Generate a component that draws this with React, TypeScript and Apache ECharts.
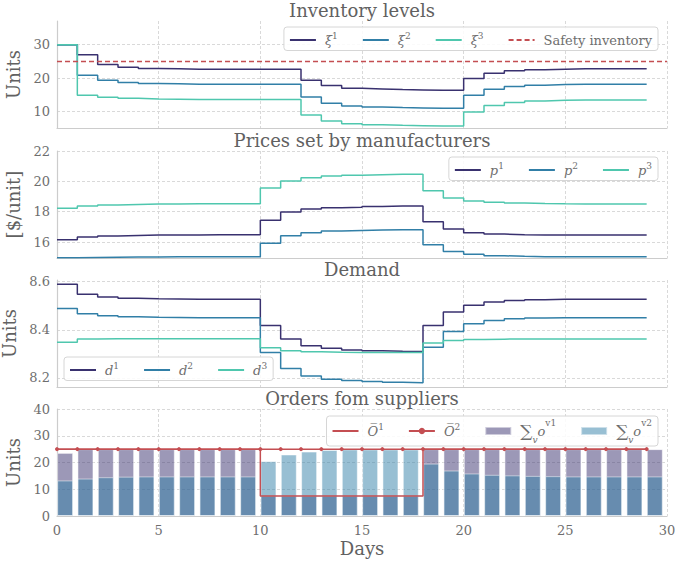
import React, { useEffect, useRef } from 'react';
import * as echarts from 'echarts';

// ---------- data ----------
const days = [0, 1, 2, 3, 4, 5, 6, 7, 8, 9, 10, 11, 12, 13, 14, 15, 16, 17, 18, 19, 20, 21, 22, 23, 24, 25, 26, 27, 28, 29];

const inv1 = [30, 27.0, 24.1, 23.3, 22.9, 22.8, 22.7, 22.7, 22.7, 22.7, 22.7, 22.7, 19.4, 17.8, 17.0, 16.8, 16.6, 16.5, 16.4, 16.4, 19.9, 21.5, 22.2, 22.5, 22.7, 22.8, 22.8, 22.8, 22.8, 22.8];
const inv2 = [30, 20.9, 19.4, 18.7, 18.4, 18.3, 18.2, 18.2, 18.2, 18.2, 18.2, 18.2, 14.4, 12.5, 11.7, 11.4, 11.2, 11.1, 11.0, 11.0, 14.9, 16.7, 17.5, 17.9, 18.1, 18.2, 18.2, 18.2, 18.2, 18.2];
const inv3 = [30, 14.9, 14.3, 14.0, 13.8, 13.7, 13.6, 13.6, 13.6, 13.6, 13.6, 13.6, 9.0, 7.2, 6.4, 6.1, 5.9, 5.8, 5.7, 5.7, 9.9, 11.8, 12.7, 13.2, 13.4, 13.5, 13.5, 13.5, 13.5, 13.5];
const safetyInventory = 25;
const safetySpan = [0, 30];

const price1 = [16.15, 16.33, 16.4, 16.44, 16.46, 16.47, 16.47, 16.48, 16.48, 16.48, 17.43, 17.98, 18.18, 18.26, 18.3, 18.35, 18.37, 18.37, 17.34, 16.86, 16.62, 16.53, 16.49, 16.47, 16.46, 16.46, 16.46, 16.46, 16.46, 16.46];
const price2 = [14.97, 14.99, 15.0, 15.01, 15.02, 15.03, 15.03, 15.03, 15.03, 15.03, 15.93, 16.42, 16.62, 16.73, 16.77, 16.79, 16.81, 16.81, 15.82, 15.38, 15.19, 15.1, 15.06, 15.04, 15.03, 15.03, 15.03, 15.03, 15.03, 15.03];
const price3 = [18.22, 18.37, 18.44, 18.48, 18.5, 18.51, 18.52, 18.52, 18.52, 18.52, 19.56, 20.02, 20.24, 20.35, 20.4, 20.44, 20.46, 20.47, 19.38, 18.9, 18.7, 18.62, 18.57, 18.54, 18.52, 18.51, 18.5, 18.5, 18.5, 18.5];

const demand1 = [8.589, 8.548, 8.536, 8.531, 8.529, 8.528, 8.527, 8.527, 8.527, 8.527, 8.418, 8.362, 8.334, 8.323, 8.316, 8.313, 8.311, 8.31, 8.418, 8.474, 8.502, 8.516, 8.522, 8.525, 8.527, 8.527, 8.527, 8.527, 8.527, 8.527];
const demand2 = [8.488, 8.467, 8.458, 8.454, 8.452, 8.451, 8.45, 8.45, 8.45, 8.45, 8.306, 8.239, 8.208, 8.194, 8.189, 8.185, 8.182, 8.18, 8.327, 8.393, 8.425, 8.439, 8.446, 8.449, 8.45, 8.45, 8.45, 8.45, 8.45, 8.45];
const demand3 = [8.348, 8.362, 8.363, 8.363, 8.363, 8.363, 8.363, 8.363, 8.363, 8.363, 8.325, 8.313, 8.309, 8.307, 8.306, 8.306, 8.306, 8.305, 8.345, 8.355, 8.36, 8.361, 8.362, 8.362, 8.362, 8.362, 8.362, 8.362, 8.362, 8.362];

const capacity1 = [25, 25, 25, 25, 25, 25, 25, 25, 25, 25, 7.5, 7.5, 7.5, 7.5, 7.5, 7.5, 7.5, 7.5, 25, 25, 25, 25, 25, 25, 25, 25, 25, 25, 25, 25];
const capacity2 = [25, 25, 25, 25, 25, 25, 25, 25, 25, 25, 25, 25, 25, 25, 25, 25, 25, 25, 25, 25, 25, 25, 25, 25, 25, 25, 25, 25, 25, 25];
const orders1 = [23.6, 25, 25, 25, 25, 25, 25, 25, 25, 25, 7.5, 7.5, 7.5, 7.5, 7.5, 7.5, 7.5, 7.5, 25, 25, 25, 25, 25, 25, 25, 25, 25, 25, 25, 25];
const orders2 = [13.3, 14.0, 14.5, 14.7, 14.8, 14.8, 14.8, 14.8, 14.8, 14.8, 20.5, 23.0, 24.1, 24.7, 24.9, 24.9, 24.9, 24.9, 19.6, 17.0, 15.9, 15.4, 15.2, 15.0, 14.9, 14.8, 14.8, 14.8, 14.8, 14.8];

const titles = ['Inventory levels', 'Prices set by manufacturers', 'Demand', 'Orders fom suppliers'];
const yNames = ['Units', '[$/unit]', 'Units', 'Units'];
const yTicks = [
  [10, 20, 30],
  [16, 18, 20, 22],
  [8.2, 8.4, 8.6],
  [0, 10, 20, 30, 40],
];
const yRanges = [
  [5.1, 37.1],
  [14.95, 22],
  [8.162, 8.607],
  [0, 40],
];
const xTickStep = 5;
const xRange = [0, 30];

// ---------- styling ----------
const FONT = 'DejaVu Serif';
const C1 = '#39316f';
const C2 = '#317fa7';
const C3 = '#4fc7ae';
const RED = '#c44e52';
const TXT = '#6e6e6e';
const HEAD = '#616161';
const GRID_TOPS = [21, 151, 280, 409];
const GRID_H = 107;
const TITLE_TOPS = [1, 131, 260, 389];

const xy = (vals: number[]) => vals.map((v, i) => [days[i], v]);

const rich: any = {
  t: { fontFamily: FONT, fontSize: 13, color: TXT, lineHeight: 18, verticalAlign: 'middle' },
  m: { fontFamily: FONT, fontStyle: 'italic', fontSize: 13, color: TXT, lineHeight: 18, verticalAlign: 'middle' },
  s: { fontFamily: FONT, fontSize: 9, color: TXT, lineHeight: 12, verticalAlign: 'top' },
  sum: { fontFamily: FONT, fontSize: 17, color: TXT, lineHeight: 26, verticalAlign: 'middle' },
  sub: { fontFamily: FONT, fontStyle: 'italic', fontSize: 9, color: TXT, lineHeight: 12, verticalAlign: 'bottom' },
};

const legendLabels: Record<string, string> = {
  xi1: '{m|ξ}{s|1}',
  xi2: '{m|ξ}{s|2}',
  xi3: '{m|ξ}{s|3}',
  safety: '{t|Safety inventory}',
  p1: '{m|p}{s|1}',
  p2: '{m|p}{s|2}',
  p3: '{m|p}{s|3}',
  d1: '{m|d}{s|1}',
  d2: '{m|d}{s|2}',
  d3: '{m|d}{s|3}',
  O1: '{m|O\u0305}{s|1}',
  O2: '{m|O\u0305}{s|2}',
  v1: '{sum|∑}{sub|v}{m|o}{s|v1}',
  v2: '{sum|∑}{sub|v}{m|o}{s|v2}',
};

// legend entry showing only the line (hide the default symbol)
const lineOnly = (name: string) => ({ name, itemStyle: { opacity: 0 } });

function makeOption(): any {
  const grid = GRID_TOPS.map((t) => ({
    left: 57,
    right: 8,
    top: t,
    height: GRID_H,
    containLabel: false,
    outerBoundsMode: 'none',
  }));

  const xAxis = GRID_TOPS.map((_, k) => ({
    type: 'value',
    gridIndex: k,
    min: xRange[0],
    max: xRange[1],
    interval: xTickStep,
    axisLine: { show: true, lineStyle: { color: '#cccccc', width: 1.2 } },
    axisTick: { show: false },
    axisLabel: { show: k === 3, color: TXT, fontFamily: FONT, fontSize: 13, margin: 8 },
    splitLine: { show: true, lineStyle: { color: '#d9d9d9', type: [3, 2], width: 1 } },
    name: k === 3 ? 'Days' : '',
    nameLocation: 'middle',
    nameGap: 23,
    nameTextStyle: { fontFamily: FONT, fontSize: 18, color: HEAD },
  }));

  const yAxis = GRID_TOPS.map((_, k) => ({
    type: 'value',
    gridIndex: k,
    min: yRanges[k][0],
    max: yRanges[k][1],
    axisLine: { show: true, lineStyle: { color: '#cccccc', width: 1.2 } },
    axisTick: { show: false, customValues: yTicks[k] },
    axisLabel: { customValues: yTicks[k], color: TXT, fontFamily: FONT, fontSize: 13, margin: 7 },
    splitLine: { show: true, lineStyle: { color: '#d9d9d9', type: [3, 2], width: 1 } },
    name: yNames[k],
    nameLocation: 'middle',
    nameGap: 31,
    nameTextStyle: { fontFamily: FONT, fontSize: 18, color: HEAD },
  }));

  const title = titles.map((t, k) => ({
    text: t,
    left: 362,
    top: TITLE_TOPS[k],
    textAlign: 'center',
    padding: 0,
    textStyle: { fontFamily: FONT, fontSize: 18, fontWeight: 'normal', color: HEAD },
  }));

  const legendBase = {
    orient: 'horizontal',
    itemWidth: 26,
    itemHeight: 9,
    itemGap: 24,
    selectedMode: false,
    backgroundColor: 'rgba(255,255,255,0.85)',
    borderColor: '#d6d6d6',
    borderWidth: 1,
    borderRadius: 3,
    padding: [4, 6, 4, 5],
    textStyle: { fontFamily: FONT, fontSize: 13, color: TXT, rich, padding: [0, 0, 0, 4] },
    formatter: (name: string) => legendLabels[name] || name,
  };

  const legend = [
    { ...legendBase, data: ['xi1', 'xi2', 'xi3', 'safety'].map(lineOnly), right: 17, top: 27 },
    { ...legendBase, data: ['p1', 'p2', 'p3'].map(lineOnly), right: 17, top: 157 },
    { ...legendBase, data: ['d1', 'd2', 'd3'].map(lineOnly), left: 64, top: 357 },
    {
      ...legendBase,
      data: [lineOnly('O1'), { name: 'O2' }, { name: 'v1', icon: 'rect' }, { name: 'v2', icon: 'rect' }],
      right: 17,
      top: 416,
      itemHeight: 8,
      padding: [2, 6, 2, 5],
    },
  ];

  const stepLine = (name: string, vals: number[], color: string, k: number) => ({
    name,
    type: 'line',
    step: 'end',
    xAxisIndex: k,
    yAxisIndex: k,
    data: xy(vals),
    symbol: 'none',
    color,
    lineStyle: { width: 1.5, color },
    silent: true,
  });

  const barSeries = (name: string, vals: number[], color: string) => ({
    name,
    type: 'bar',
    xAxisIndex: 3,
    yAxisIndex: 3,
    data: vals.map((v, i) => [days[i] + 0.4, v]),
    barWidth: 16,
    barGap: '-100%',
    color,
    itemStyle: { color, opacity: 0.5, borderColor: '#ffffff', borderWidth: 1 },
    silent: true,
  });

  const series: any[] = [
    stepLine('xi1', inv1, C1, 0),
    stepLine('xi2', inv2, C2, 0),
    stepLine('xi3', inv3, C3, 0),
    {
      name: 'safety',
      type: 'line',
      xAxisIndex: 0,
      yAxisIndex: 0,
      data: safetySpan.map((x) => [x, safetyInventory]),
      symbol: 'none',
      color: RED,
      lineStyle: { width: 1.5, color: RED, type: [5, 3] },
      silent: true,
    },
    stepLine('p1', price1, C1, 1),
    stepLine('p2', price2, C2, 1),
    stepLine('p3', price3, C3, 1),
    stepLine('d1', demand1, C1, 2),
    stepLine('d2', demand2, C2, 2),
    stepLine('d3', demand3, C3, 2),
    barSeries('v1', orders1, C1),
    barSeries('v2', orders2, C2),
    { ...stepLine('O1', capacity1, RED, 3), z: 4 },
    {
      name: 'O2',
      type: 'line',
      xAxisIndex: 3,
      yAxisIndex: 3,
      data: xy(capacity2),
      symbol: 'circle',
      symbolSize: 4,
      showSymbol: true,
      color: RED,
      itemStyle: { color: RED },
      lineStyle: { width: 1.5, color: RED },
      silent: true,
      z: 4,
    },
  ];

  return { animation: false, backgroundColor: '#ffffff', title, grid, xAxis, yAxis, legend, series };
}

export default function App() {
  const ref = useRef<HTMLDivElement>(null);
  useEffect(() => {
    document.body.style.margin = '0';
    if (!ref.current) return;
    const chart = echarts.init(ref.current, undefined, { renderer: 'svg' });
    chart.setOption(makeOption());
    return () => chart.dispose();
  }, []);
  return <div ref={ref} style={{ width: 675, height: 565 }} />;
}
